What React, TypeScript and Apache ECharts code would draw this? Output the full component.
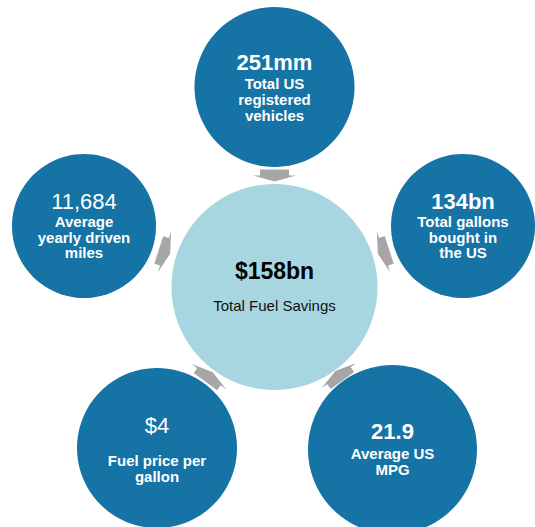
import React, { useEffect, useRef } from "react";
import * as echarts from "echarts";

// ---- data ----
const centerValue = "$158bn";
const centerLabel = "Total Fuel Savings";
const nodeValues = ["251mm", "134bn", "21.9", "$4", "11,684"];
const nodeLabels = [
  ["Total US", "registered", "vehicles"],
  ["Total gallons", "bought in", "the US"],
  ["Average US", "MPG"],
  ["Fuel price per", "gallon"],
  ["Average", "yearly driven", "miles"],
];
const nodeValueBold = [true, true, true, false, false];

// ---- layout (positions / sizes) ----
const W = 535;
const H = 527;
const CENTER = { x: 274.5, y: 287, r: 103 };
const NODES = [
  { x: 274.5, y: 87, r: 80, vOff: -25, lOff: -4, step: 16.3 },
  { x: 463, y: 226, r: 72, vOff: -25, lOff: -4.5, step: 15.7 },
  { x: 392.5, y: 449.5, r: 84.5, vOff: -18, lOff: 4, step: 16 },
  { x: 157, y: 448, r: 80, vOff: -23, lOff: 12, step: 16 },
  { x: 84, y: 226, r: 72, vOff: -25, lOff: -4.5, step: 15.7 },
];

const DARK = "#1573a6";
const LIGHT = "#a8d6e0";
const GREY = "#a6a6a6";
const FONT = "'Liberation Sans', Arial, Helvetica, sans-serif";

function arrowPoints(n: { x: number; y: number; r: number }) {
  const dx = CENTER.x - n.x;
  const dy = CENTER.y - n.y;
  const d = Math.sqrt(dx * dx + dy * dy);
  const ux = dx / d;
  const uy = dy / d;
  const px = -uy;
  const py = ux;
  const mid = (n.r + (d - CENTER.r)) / 2;
  const cx = n.x + ux * mid;
  const cy = n.y + uy * mid;
  const local = [
    [-6, -14.5],
    [0, -14.5],
    [0, -21.5],
    [6, 0],
    [0, 21.5],
    [0, 14.5],
    [-6, 14.5],
  ];
  return local.map(([a, b]) => [cx + ux * a + px * b, cy + uy * a + py * b]);
}

export default function App() {
  const ref = useRef<HTMLDivElement>(null);
  useEffect(() => {
    if (!ref.current) return;
    const chart = echarts.init(ref.current, undefined, { renderer: "svg" });
    const elements: any[] = [];
    NODES.forEach((n) => {
      elements.push({
        type: "polygon",
        shape: { points: arrowPoints(n) },
        style: { fill: GREY },
        z: 1,
      });
    });
    elements.push({
      type: "circle",
      shape: { cx: CENTER.x, cy: CENTER.y, r: CENTER.r },
      style: { fill: LIGHT },
      z: 2,
    });
    elements.push({
      type: "text",
      x: CENTER.x,
      y: 271,
      style: {
        text: centerValue,
        fill: "#000",
        font: `bold 23px ${FONT}`,
        align: "center",
        verticalAlign: "middle",
      },
      z: 5,
    });
    elements.push({
      type: "text",
      x: CENTER.x,
      y: 305,
      style: {
        text: centerLabel,
        fill: "#111",
        font: `15px ${FONT}`,
        align: "center",
        verticalAlign: "middle",
      },
      z: 5,
    });
    NODES.forEach((n, i) => {
      elements.push({
        type: "circle",
        shape: { cx: n.x, cy: n.y, r: n.r },
        style: { fill: DARK },
        z: 2,
      });
      elements.push({
        type: "text",
        x: n.x,
        y: n.y + n.vOff,
        style: {
          text: nodeValues[i],
          fill: "#fff",
          font: `${nodeValueBold[i] ? "bold " : ""}22px ${FONT}`,
          align: "center",
          verticalAlign: "middle",
        },
        z: 5,
      });
      nodeLabels[i].forEach((line, j) => {
        elements.push({
          type: "text",
          x: n.x,
          y: n.y + n.lOff + j * n.step,
          style: {
            text: line,
            fill: "#fff",
            font: `bold 15px ${FONT}`,
            align: "center",
            verticalAlign: "middle",
          },
          z: 5,
        });
      });
    });
    chart.setOption({
      animation: false,
      backgroundColor: "#fff",
      graphic: { elements },
    });
    return () => chart.dispose();
  }, []);
  return (
    <div
      ref={ref}
      style={{ position: "fixed", left: 0, top: 0, width: W, height: H }}
    />
  );
}
